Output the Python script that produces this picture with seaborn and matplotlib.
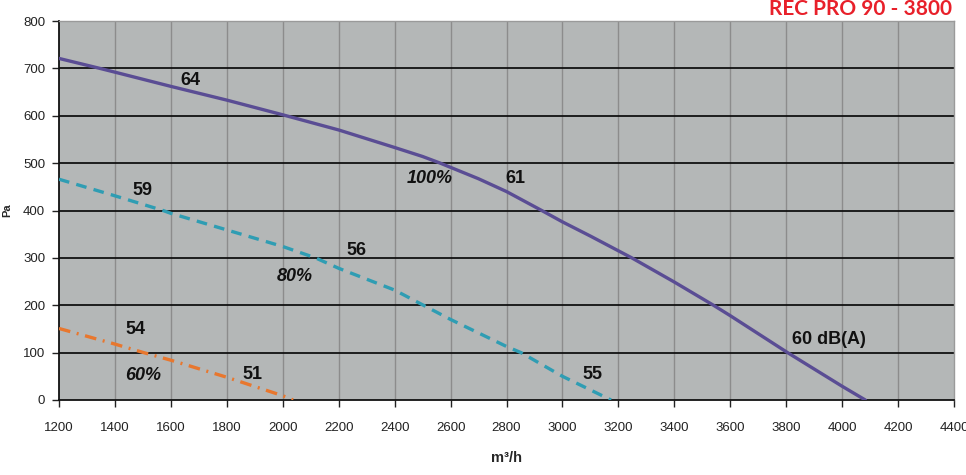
import matplotlib
matplotlib.use("Agg")
import matplotlib.pyplot as plt
import seaborn as sns
import pandas as pd

# ---- data ----
flow_100 = [1200, 1346, 1400, 1600, 1800, 2000, 2200, 2400, 2500, 2563, 2700, 2800, 2926, 3000, 3100, 3248, 3400, 3540, 3600, 3805, 4000, 4083]
pa_100 = [721, 700, 692, 662, 633, 602, 570, 533, 514, 500, 467, 440, 400, 376, 346, 300, 249, 200, 178, 100, 29, 0]
flow_80 = [1200, 1400, 1572, 1600, 1800, 2000, 2117, 2200, 2400, 2503, 2600, 2800, 2852, 3000, 3174]
pa_80 = [466, 431, 400, 394, 359, 324, 300, 278, 232, 200, 170, 113, 100, 50, 0]
flow_60 = [1200, 1400, 1503, 1600, 1800, 2000, 2037]
pa_60 = [151, 118, 100, 84, 48, 9, 0]

x_ticks = list(range(1200, 4401, 200))
y_ticks = list(range(0, 801, 100))

labels_text = ["64", "59", "100%", "61", "56", "80%", "54", "60%", "51", "55", "60 dB(A)"]
labels_x = [1668, 1500, 2527, 2830, 2262, 2044, 1475, 1500, 1890, 3109, 3953]
labels_y = [675, 442, 468, 468, 315, 260, 148, 51, 53, 53, 127]
labels_italic = [False, False, True, False, False, True, False, True, False, False, False]

title_text = "REC PRO 90 - 3800"
x_label = "m³/h"
y_label = "Pa"

# ---- style ----
sns.set_theme(style="white")
plt.rcParams['font.family'] = ['Liberation Sans', 'DejaVu Sans']

df = pd.concat([
    pd.DataFrame({"flow": flow_100, "pa": pa_100, "speed": "100%"}),
    pd.DataFrame({"flow": flow_80, "pa": pa_80, "speed": "80%"}),
    pd.DataFrame({"flow": flow_60, "pa": pa_60, "speed": "60%"}),
])

fig = plt.figure(figsize=(9.66, 4.75), dpi=100)
ax = fig.add_axes([59 / 966, 75 / 475, 895 / 966, 379 / 475])
ax.set_facecolor("#b4b7b7")

colors = {"100%": "#5a4d94", "80%": "#2f9db3", "60%": "#e8772e"}
styles = {"100%": "-", "80%": (0, (3.2, 2.2)), "60%": (0, (3.5, 2, 0.6, 2))}
for sp in ["100%", "80%", "60%"]:
    sns.lineplot(data=df[df.speed == sp], x="flow", y="pa", ax=ax, color=colors[sp],
                 linewidth=2.4, linestyle=styles[sp], sort=False, estimator=None, zorder=5)

ax.set_xlim(1200, 4400)
ax.set_ylim(0, 800)
ax.set_xticks(x_ticks)
ax.set_yticks(y_ticks)
ax.set_xticklabels([str(t) for t in x_ticks], fontsize=9.5, color="#222222")
ax.set_yticklabels([str(t) for t in y_ticks], fontsize=9.5, color="#222222")
ax.tick_params(axis="both", which="major", direction="out", length=5, width=1, color="#222222",
               bottom=True, left=True)
ax.tick_params(axis="x", pad=11)
ax.tick_params(axis="y", pad=5)

for yv in y_ticks[1:]:
    ax.axhline(yv, color="#111111", linewidth=1.3, zorder=2)
for xv in x_ticks[1:-1]:
    ax.axvline(xv, color="#8c8c8c", linewidth=1.0, zorder=1)

for side in ["left", "bottom"]:
    ax.spines[side].set_color("#111111")
    ax.spines[side].set_linewidth(1.3)
for side in ["top", "right"]:
    ax.spines[side].set_color("#9a9a9a")
    ax.spines[side].set_linewidth(1.0)

ax.set_xlabel(x_label, fontsize=10.5, fontweight="bold", labelpad=12)
ax.set_ylabel(y_label, fontsize=8, fontweight="bold", labelpad=8)

for t, xv, yv, it in zip(labels_text, labels_x, labels_y, labels_italic):
    ax.text(xv, yv, t, fontsize=13, fontweight="bold", style="italic" if it else "normal",
            ha="center", va="center", color="#111111", zorder=6)

fig.text(952 / 966, 1 - 15 / 475, title_text, ha="right", va="baseline",
         fontsize=15, fontweight="bold", color="#e8202a", fontfamily=['Lato', 'DejaVu Sans'])

fig.savefig("out.png", dpi=100, facecolor="white")
